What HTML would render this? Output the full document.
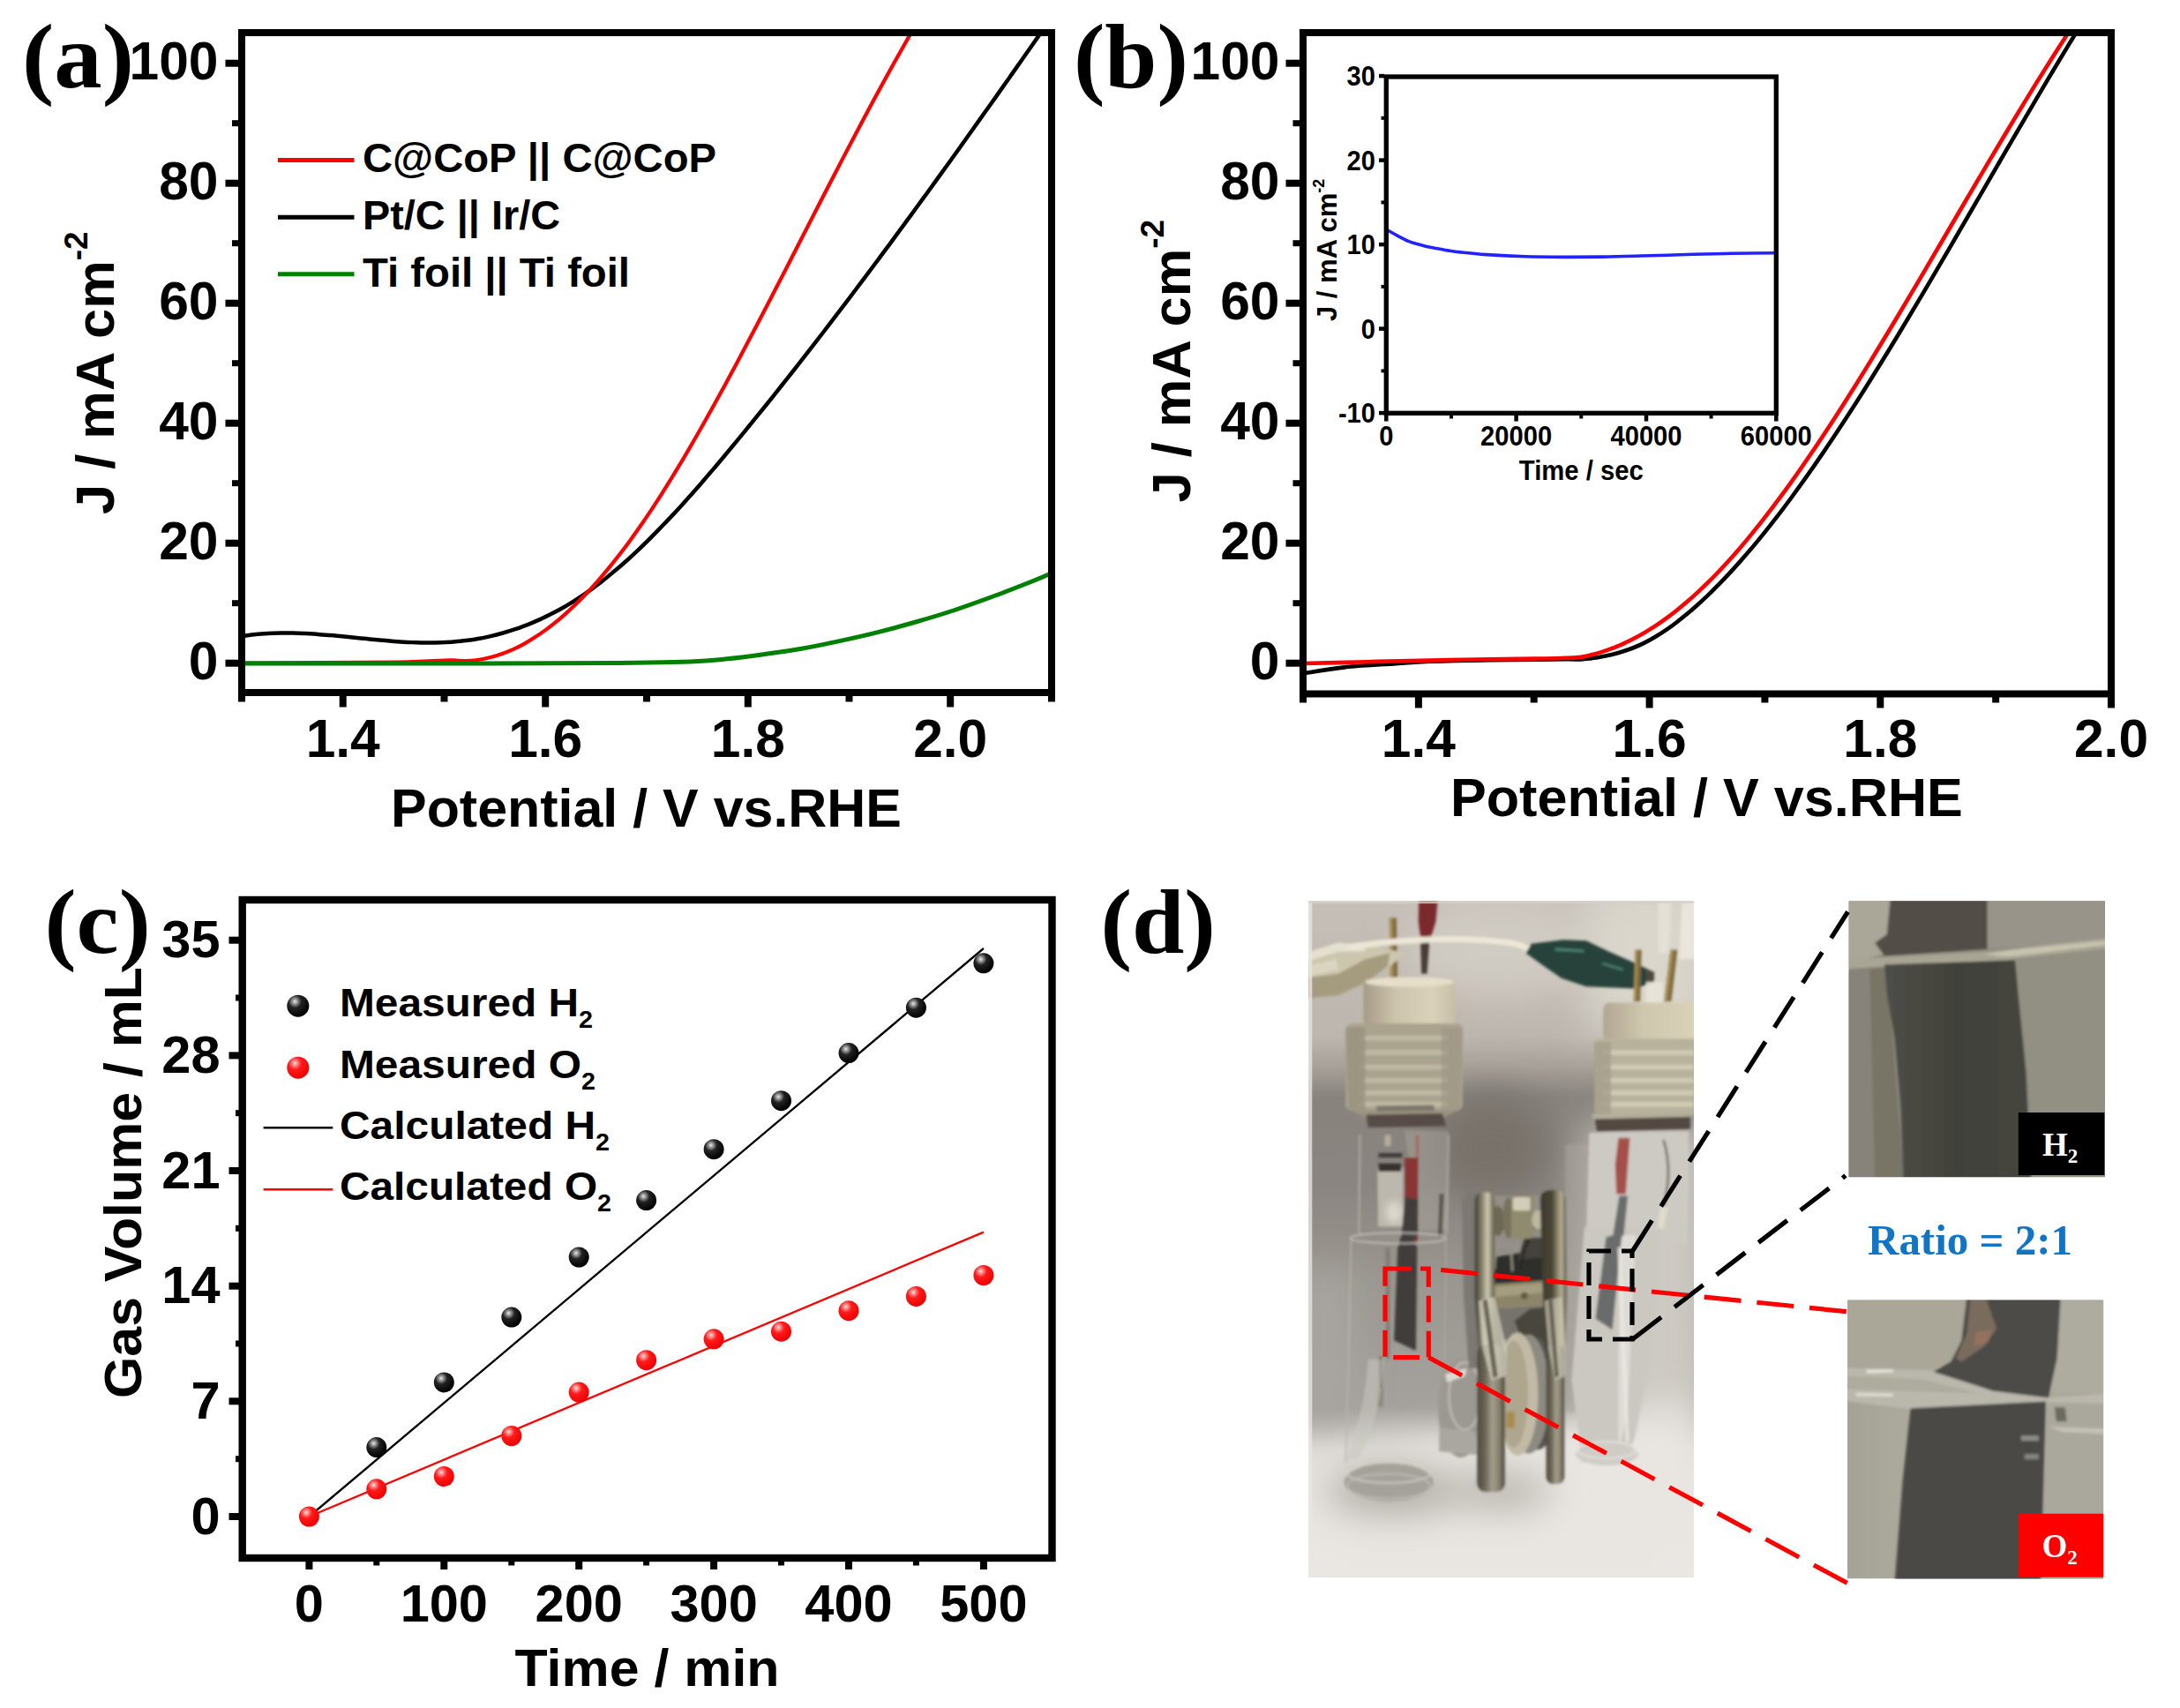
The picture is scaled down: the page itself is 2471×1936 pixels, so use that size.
<!DOCTYPE html>
<html lang="en">
<head>
<meta charset="utf-8">
<title>Figure</title>
<style>
html,body{margin:0;padding:0;background:#fff;}
body{width:2471px;height:1936px;overflow:hidden;}
svg{display:block;}
text{font-kerning:normal;}
</style>
</head>
<body>
<svg xmlns="http://www.w3.org/2000/svg" width="2471" height="1936" viewBox="0 0 2471 1936">
<rect width="2471" height="1936" fill="#fff"/>
<g id="panel-a">
<clipPath id="clipA"><rect x="274.0" y="37.0" width="918.0" height="748.0"/></clipPath>
<g clip-path="url(#clipA)" fill="none" stroke-linejoin="round">
<path d="M276.0,720.9 C278.3,720.6 285.3,719.6 290.0,719.1 C294.7,718.6 299.3,718.3 304.0,718.0 C308.7,717.7 313.3,717.6 318.0,717.5 C322.7,717.4 327.3,717.5 332.0,717.6 C336.7,717.7 341.3,717.9 346.0,718.1 C350.7,718.3 355.3,718.6 360.0,718.9 C364.7,719.2 369.3,719.6 374.0,720.0 C378.7,720.4 383.3,720.8 388.0,721.3 C392.7,721.8 397.3,722.2 402.0,722.7 C406.7,723.2 411.3,723.6 416.0,724.1 C420.7,724.6 425.3,725.1 430.0,725.5 C434.7,725.9 439.3,726.3 444.0,726.7 C448.7,727.1 453.3,727.4 458.0,727.7 C462.7,728.0 467.3,728.1 472.0,728.3 C476.7,728.4 481.3,728.6 486.0,728.6 C490.7,728.6 495.3,728.5 500.0,728.3 C504.7,728.1 509.3,727.9 514.0,727.5 C518.7,727.1 523.3,726.7 528.0,726.1 C532.7,725.5 537.3,724.8 542.0,724.0 C546.7,723.2 551.3,722.2 556.0,721.1 C560.7,720.0 565.3,718.8 570.0,717.5 C574.7,716.2 579.3,714.8 584.0,713.2 C588.7,711.6 593.3,710.0 598.0,708.1 C602.7,706.2 607.3,704.2 612.0,702.1 C616.7,700.0 621.3,697.7 626.0,695.3 C630.7,692.9 635.3,690.4 640.0,687.7 C644.7,685.0 649.3,682.1 654.0,679.1 C658.7,676.1 663.3,672.9 668.0,669.6 C672.7,666.3 677.3,662.8 682.0,659.2 C686.7,655.6 691.3,651.7 696.0,647.8 C700.7,643.9 705.3,639.9 710.0,635.7 C714.7,631.5 719.3,627.2 724.0,622.8 C728.7,618.4 733.3,613.8 738.0,609.1 C742.7,604.4 747.3,599.6 752.0,594.8 C756.7,589.9 761.3,585.0 766.0,580.0 C770.7,575.0 775.3,569.8 780.0,564.6 C784.7,559.4 789.3,554.1 794.0,548.7 C798.7,543.3 803.3,537.9 808.0,532.4 C812.7,526.9 817.3,521.4 822.0,515.8 C826.7,510.2 831.3,504.6 836.0,498.9 C840.7,493.2 845.3,487.5 850.0,481.8 C854.7,476.1 859.3,470.3 864.0,464.5 C868.7,458.7 873.3,453.0 878.0,447.1 C882.7,441.2 887.3,435.3 892.0,429.4 C896.7,423.5 901.3,417.6 906.0,411.6 C910.7,405.6 915.3,399.6 920.0,393.6 C924.7,387.6 929.3,381.6 934.0,375.5 C938.7,369.4 943.3,363.3 948.0,357.2 C952.7,351.1 957.3,345.0 962.0,338.8 C966.7,332.6 971.3,326.4 976.0,320.2 C980.7,314.0 985.3,307.8 990.0,301.5 C994.7,295.2 999.3,289.0 1004.0,282.7 C1008.7,276.4 1013.3,270.1 1018.0,263.7 C1022.7,257.3 1027.3,251.0 1032.0,244.6 C1036.7,238.2 1041.3,231.8 1046.0,225.4 C1050.7,219.0 1055.3,212.6 1060.0,206.1 C1064.7,199.6 1069.3,193.2 1074.0,186.7 C1078.7,180.2 1083.3,173.7 1088.0,167.2 C1092.7,160.7 1097.3,154.1 1102.0,147.5 C1106.7,140.9 1111.3,134.4 1116.0,127.8 C1120.7,121.2 1125.3,114.7 1130.0,108.1 C1134.7,101.5 1139.3,94.8 1144.0,88.2 C1148.7,81.6 1153.3,74.9 1158.0,68.2 C1162.7,61.5 1167.3,54.9 1172.0,48.2 C1176.7,41.5 1183.7,31.5 1186.0,28.2" stroke="#000" stroke-width="4.5"/>
<path d="M276.0,751.5 C305.0,751.3 411.0,751.0 450.0,750.5 C489.0,750.0 498.0,748.5 510.0,748.3 C522.0,748.1 518.0,749.1 522.0,749.2 C526.0,749.3 530.0,749.1 534.0,748.8 C538.0,748.5 542.0,748.0 546.0,747.3 C550.0,746.6 554.0,745.7 558.0,744.6 C562.0,743.5 566.0,742.2 570.0,740.8 C574.0,739.3 578.0,737.7 582.0,735.9 C586.0,734.1 590.0,732.0 594.0,729.8 C598.0,727.6 602.0,725.2 606.0,722.6 C610.0,720.0 614.0,717.3 618.0,714.4 C622.0,711.5 626.0,708.5 630.0,705.2 C634.0,702.0 638.0,698.5 642.0,694.9 C646.0,691.3 650.0,687.5 654.0,683.6 C658.0,679.7 662.0,675.5 666.0,671.3 C670.0,667.0 674.0,662.7 678.0,658.1 C682.0,653.5 686.0,648.8 690.0,643.9 C694.0,639.0 698.0,634.0 702.0,628.8 C706.0,623.6 710.0,618.4 714.0,612.9 C718.0,607.4 722.0,601.8 726.0,596.0 C730.0,590.2 734.0,584.3 738.0,578.3 C742.0,572.3 746.0,566.1 750.0,559.8 C754.0,553.5 758.0,547.1 762.0,540.6 C766.0,534.1 770.0,527.5 774.0,520.8 C778.0,514.1 782.0,507.2 786.0,500.3 C790.0,493.4 794.0,486.4 798.0,479.3 C802.0,472.2 806.0,465.0 810.0,457.8 C814.0,450.6 818.0,443.2 822.0,435.9 C826.0,428.5 830.0,421.2 834.0,413.7 C838.0,406.2 842.0,398.7 846.0,391.1 C850.0,383.5 854.0,375.9 858.0,368.2 C862.0,360.5 866.0,352.9 870.0,345.2 C874.0,337.5 878.0,329.8 882.0,322.0 C886.0,314.2 890.0,306.5 894.0,298.7 C898.0,290.9 902.0,283.1 906.0,275.3 C910.0,267.5 914.0,259.7 918.0,251.9 C922.0,244.1 926.0,236.3 930.0,228.5 C934.0,220.7 938.0,213.0 942.0,205.3 C946.0,197.6 950.0,189.8 954.0,182.1 C958.0,174.4 962.0,166.8 966.0,159.2 C970.0,151.6 974.0,144.0 978.0,136.5 C982.0,129.0 986.0,121.4 990.0,114.0 C994.0,106.6 998.0,99.3 1002.0,92.0 C1006.0,84.7 1010.0,77.5 1014.0,70.3 C1018.0,63.1 1022.0,56.0 1026.0,49.0 C1030.0,42.0 1036.0,31.7 1038.0,28.2" stroke="#ff0000" stroke-width="4.2"/>
<path d="M276.0,752.0 C313.3,752.0 429.3,752.1 500.0,752.0 C570.7,751.9 653.0,751.8 700.0,751.5 C747.0,751.2 761.2,750.8 782.0,750.0 C802.8,749.2 810.4,748.2 824.6,746.8 C838.8,745.4 852.8,743.5 867.0,741.5 C881.2,739.5 895.7,737.5 910.0,735.0 C924.3,732.5 938.4,729.5 952.6,726.4 C966.8,723.3 980.8,720.2 995.0,716.6 C1009.2,713.0 1023.7,709.1 1038.0,705.0 C1052.3,700.9 1066.4,696.7 1080.6,692.0 C1094.8,687.3 1108.8,682.2 1123.0,677.0 C1137.2,671.8 1154.8,664.9 1166.0,660.5 C1177.2,656.1 1186.0,652.2 1190.0,650.5" stroke="#008000" stroke-width="5"/>
</g>
<rect x="274.0" y="37.0" width="918.0" height="748.0" fill="none" stroke="#000" stroke-width="8"/>
<line x1="255.5" y1="751.7" x2="271.0" y2="751.7" stroke="#000" stroke-width="8" />
<text x="247.5" y="770.4" font-family='"Liberation Sans", Arial, Helvetica, sans-serif' font-size="60.5" font-weight="bold" text-anchor="end" fill="#000" >0</text>
<line x1="255.5" y1="615.7" x2="271.0" y2="615.7" stroke="#000" stroke-width="8" />
<text x="247.5" y="634.4" font-family='"Liberation Sans", Arial, Helvetica, sans-serif' font-size="60.5" font-weight="bold" text-anchor="end" fill="#000" >20</text>
<line x1="255.5" y1="479.7" x2="271.0" y2="479.7" stroke="#000" stroke-width="8" />
<text x="247.5" y="498.4" font-family='"Liberation Sans", Arial, Helvetica, sans-serif' font-size="60.5" font-weight="bold" text-anchor="end" fill="#000" >40</text>
<line x1="255.5" y1="343.7" x2="271.0" y2="343.7" stroke="#000" stroke-width="8" />
<text x="247.5" y="362.4" font-family='"Liberation Sans", Arial, Helvetica, sans-serif' font-size="60.5" font-weight="bold" text-anchor="end" fill="#000" >60</text>
<line x1="255.5" y1="207.7" x2="271.0" y2="207.7" stroke="#000" stroke-width="8" />
<text x="247.5" y="226.4" font-family='"Liberation Sans", Arial, Helvetica, sans-serif' font-size="60.5" font-weight="bold" text-anchor="end" fill="#000" >80</text>
<line x1="255.5" y1="71.7" x2="271.0" y2="71.7" stroke="#000" stroke-width="8" />
<text x="247.5" y="90.4" font-family='"Liberation Sans", Arial, Helvetica, sans-serif' font-size="60.5" font-weight="bold" text-anchor="end" fill="#000" >100</text>
<line x1="263.0" y1="683.7" x2="271.0" y2="683.7" stroke="#000" stroke-width="7" />
<line x1="263.0" y1="547.7" x2="271.0" y2="547.7" stroke="#000" stroke-width="7" />
<line x1="263.0" y1="411.7" x2="271.0" y2="411.7" stroke="#000" stroke-width="7" />
<line x1="263.0" y1="275.7" x2="271.0" y2="275.7" stroke="#000" stroke-width="7" />
<line x1="263.0" y1="139.7" x2="271.0" y2="139.7" stroke="#000" stroke-width="7" />
<line x1="388.7" y1="788.0" x2="388.7" y2="801.5" stroke="#000" stroke-width="8" />
<text x="388.7" y="857.5" font-family='"Liberation Sans", Arial, Helvetica, sans-serif' font-size="60.5" font-weight="bold" text-anchor="middle" fill="#000" >1.4</text>
<line x1="618.2" y1="788.0" x2="618.2" y2="801.5" stroke="#000" stroke-width="8" />
<text x="618.2" y="857.5" font-family='"Liberation Sans", Arial, Helvetica, sans-serif' font-size="60.5" font-weight="bold" text-anchor="middle" fill="#000" >1.6</text>
<line x1="847.8" y1="788.0" x2="847.8" y2="801.5" stroke="#000" stroke-width="8" />
<text x="847.8" y="857.5" font-family='"Liberation Sans", Arial, Helvetica, sans-serif' font-size="60.5" font-weight="bold" text-anchor="middle" fill="#000" >1.8</text>
<line x1="1077.2" y1="788.0" x2="1077.2" y2="801.5" stroke="#000" stroke-width="8" />
<text x="1077.2" y="857.5" font-family='"Liberation Sans", Arial, Helvetica, sans-serif' font-size="60.5" font-weight="bold" text-anchor="middle" fill="#000" >2.0</text>
<line x1="274.0" y1="788.0" x2="274.0" y2="795.5" stroke="#000" stroke-width="8" />
<line x1="503.5" y1="788.0" x2="503.5" y2="795.5" stroke="#000" stroke-width="8" />
<line x1="733.0" y1="788.0" x2="733.0" y2="795.5" stroke="#000" stroke-width="8" />
<line x1="962.5" y1="788.0" x2="962.5" y2="795.5" stroke="#000" stroke-width="8" />
<line x1="1192.0" y1="788.0" x2="1192.0" y2="795.5" stroke="#000" stroke-width="8" />
<text x="732.5" y="937" font-family='"Liberation Sans", Arial, Helvetica, sans-serif' font-size="60.5" font-weight="bold" text-anchor="middle" fill="#000" textLength="579" lengthAdjust="spacingAndGlyphs">Potential / V vs.RHE</text>
<text transform="translate(128.8,583) rotate(-90)" font-family='"Liberation Sans", Arial, Helvetica, sans-serif' font-size="61.4" font-weight="bold" fill="#000">J / mA cm<tspan font-size="37" dy="-30">-2</tspan></text>
<line x1="315.0" y1="181.5" x2="401.5" y2="181.5" stroke="#ff0000" stroke-width="5" />
<line x1="315.0" y1="246.3" x2="401.5" y2="246.3" stroke="#000" stroke-width="5" />
<line x1="315.0" y1="310.7" x2="401.5" y2="310.7" stroke="#008000" stroke-width="5" />
<text x="411" y="194.5" font-family='"Liberation Sans", Arial, Helvetica, sans-serif' font-size="46.5" font-weight="bold" text-anchor="start" fill="#000" textLength="401" lengthAdjust="spacingAndGlyphs">C@CoP || C@CoP</text>
<text x="411" y="259.5" font-family='"Liberation Sans", Arial, Helvetica, sans-serif' font-size="46.5" font-weight="bold" text-anchor="start" fill="#000" textLength="224" lengthAdjust="spacingAndGlyphs">Pt/C || Ir/C</text>
<text x="411" y="324.5" font-family='"Liberation Sans", Arial, Helvetica, sans-serif' font-size="46.5" font-weight="bold" text-anchor="start" fill="#000" textLength="303" lengthAdjust="spacingAndGlyphs">Ti foil || Ti foil</text>
<text x="25.1" y="98.5" font-family='"Liberation Serif", "Times New Roman", Times, serif' font-size="103.5" font-weight="bold" text-anchor="start" fill="#000" textLength="126.8" lengthAdjust="spacingAndGlyphs">(a)</text>
</g>
<g id="panel-b">
<clipPath id="clipB"><rect x="1477.0" y="37.0" width="916.0" height="749.5"/></clipPath>
<g clip-path="url(#clipB)" fill="none" stroke-linejoin="round">
<path d="M1476.0,764.0 C1476.8,763.8 1471.8,764.1 1480.6,762.7 C1489.4,761.3 1512.3,757.5 1528.8,755.8 C1545.2,754.1 1564.0,753.4 1579.3,752.4 C1594.6,751.4 1602.2,750.5 1620.6,749.8 C1638.9,749.1 1669.5,748.5 1689.4,748.2 C1709.3,747.9 1725.7,747.9 1740.0,747.8 C1754.3,747.6 1766.3,747.4 1775.0,747.3 C1783.7,747.2 1787.2,747.6 1792.0,747.4 C1796.8,747.2 1800.0,746.6 1804.0,746.1 C1808.0,745.6 1812.0,744.9 1816.0,744.2 C1820.0,743.5 1824.0,742.7 1828.0,741.7 C1832.0,740.7 1836.0,739.6 1840.0,738.3 C1844.0,737.0 1848.0,735.6 1852.0,734.0 C1856.0,732.4 1860.0,730.6 1864.0,728.6 C1868.0,726.6 1872.0,724.4 1876.0,722.0 C1880.0,719.6 1884.0,717.1 1888.0,714.4 C1892.0,711.7 1896.0,708.8 1900.0,705.7 C1904.0,702.7 1908.0,699.4 1912.0,696.1 C1916.0,692.8 1920.0,689.3 1924.0,685.7 C1928.0,682.1 1932.0,678.4 1936.0,674.6 C1940.0,670.8 1944.0,666.8 1948.0,662.7 C1952.0,658.6 1956.0,654.4 1960.0,650.1 C1964.0,645.8 1968.0,641.4 1972.0,636.9 C1976.0,632.4 1980.0,627.8 1984.0,623.1 C1988.0,618.4 1992.0,613.5 1996.0,608.6 C2000.0,603.7 2004.0,598.7 2008.0,593.6 C2012.0,588.5 2016.0,583.4 2020.0,578.1 C2024.0,572.8 2028.0,567.5 2032.0,562.0 C2036.0,556.5 2040.0,551.0 2044.0,545.4 C2048.0,539.8 2052.0,534.1 2056.0,528.4 C2060.0,522.6 2064.0,516.8 2068.0,510.9 C2072.0,505.0 2076.0,499.0 2080.0,493.0 C2084.0,487.0 2088.0,480.9 2092.0,474.8 C2096.0,468.7 2100.0,462.5 2104.0,456.2 C2108.0,449.9 2112.0,443.6 2116.0,437.2 C2120.0,430.8 2124.0,424.4 2128.0,418.0 C2132.0,411.6 2136.0,405.1 2140.0,398.5 C2144.0,391.9 2148.0,385.3 2152.0,378.7 C2156.0,372.1 2160.0,365.5 2164.0,358.8 C2168.0,352.1 2172.0,345.4 2176.0,338.6 C2180.0,331.9 2184.0,325.1 2188.0,318.3 C2192.0,311.5 2196.0,304.7 2200.0,297.9 C2204.0,291.1 2208.0,284.2 2212.0,277.3 C2216.0,270.4 2220.0,263.6 2224.0,256.7 C2228.0,249.8 2232.0,242.9 2236.0,236.0 C2240.0,229.1 2244.0,222.2 2248.0,215.3 C2252.0,208.4 2256.0,201.5 2260.0,194.6 C2264.0,187.7 2268.0,180.8 2272.0,173.9 C2276.0,167.0 2280.0,160.2 2284.0,153.3 C2288.0,146.5 2292.0,139.6 2296.0,132.8 C2300.0,126.0 2304.0,119.2 2308.0,112.4 C2312.0,105.6 2316.0,98.8 2320.0,92.1 C2324.0,85.4 2328.0,78.7 2332.0,72.0 C2336.0,65.3 2340.0,58.7 2344.0,52.1 C2348.0,45.5 2354.0,35.8 2356.0,32.5" stroke="#000" stroke-width="4.6"/>
<path d="M1476.0,752.0 C1486.7,751.8 1519.7,751.0 1540.0,750.5 C1560.3,750.0 1572.7,749.5 1597.6,749.0 C1622.5,748.5 1665.7,747.7 1689.4,747.3 C1713.1,746.9 1726.6,746.8 1740.0,746.6 C1753.4,746.4 1760.9,746.3 1769.6,746.0 C1778.3,745.7 1786.3,745.5 1792.0,744.9 C1797.7,744.3 1800.0,743.3 1804.0,742.3 C1808.0,741.3 1812.0,740.2 1816.0,738.9 C1820.0,737.6 1824.0,736.2 1828.0,734.7 C1832.0,733.2 1836.0,731.4 1840.0,729.6 C1844.0,727.8 1848.0,725.9 1852.0,723.8 C1856.0,721.7 1860.0,719.5 1864.0,717.1 C1868.0,714.7 1872.0,712.2 1876.0,709.6 C1880.0,707.0 1884.0,704.2 1888.0,701.3 C1892.0,698.4 1896.0,695.4 1900.0,692.2 C1904.0,689.0 1908.0,685.7 1912.0,682.3 C1916.0,678.9 1920.0,675.3 1924.0,671.6 C1928.0,667.9 1932.0,664.1 1936.0,660.2 C1940.0,656.3 1944.0,652.2 1948.0,648.0 C1952.0,643.8 1956.0,639.4 1960.0,635.0 C1964.0,630.6 1968.0,626.0 1972.0,621.4 C1976.0,616.8 1980.0,612.0 1984.0,607.1 C1988.0,602.2 1992.0,597.3 1996.0,592.2 C2000.0,587.1 2004.0,582.0 2008.0,576.7 C2012.0,571.5 2016.0,566.1 2020.0,560.7 C2024.0,555.3 2028.0,549.7 2032.0,544.1 C2036.0,538.5 2040.0,532.8 2044.0,527.0 C2048.0,521.2 2052.0,515.4 2056.0,509.5 C2060.0,503.6 2064.0,497.6 2068.0,491.5 C2072.0,485.4 2076.0,479.4 2080.0,473.2 C2084.0,467.0 2088.0,460.8 2092.0,454.5 C2096.0,448.2 2100.0,441.9 2104.0,435.5 C2108.0,429.1 2112.0,422.6 2116.0,416.1 C2120.0,409.6 2124.0,403.1 2128.0,396.5 C2132.0,389.9 2136.0,383.3 2140.0,376.7 C2144.0,370.1 2148.0,363.4 2152.0,356.7 C2156.0,350.0 2160.0,343.3 2164.0,336.6 C2168.0,329.9 2172.0,323.1 2176.0,316.3 C2180.0,309.5 2184.0,302.7 2188.0,295.9 C2192.0,289.1 2196.0,282.3 2200.0,275.5 C2204.0,268.7 2208.0,261.8 2212.0,255.0 C2216.0,248.2 2220.0,241.3 2224.0,234.5 C2228.0,227.7 2232.0,220.9 2236.0,214.1 C2240.0,207.3 2244.0,200.6 2248.0,193.8 C2252.0,187.1 2256.0,180.3 2260.0,173.6 C2264.0,166.9 2268.0,160.2 2272.0,153.5 C2276.0,146.8 2280.0,140.2 2284.0,133.6 C2288.0,127.0 2292.0,120.4 2296.0,113.9 C2300.0,107.4 2304.0,100.9 2308.0,94.4 C2312.0,88.0 2316.0,81.6 2320.0,75.2 C2324.0,68.8 2328.0,62.5 2332.0,56.3 C2336.0,50.1 2342.0,40.9 2344.0,37.8" stroke="#ff0000" stroke-width="4.6"/>
</g>
<rect x="1477.0" y="37.0" width="916.0" height="749.5" fill="none" stroke="#000" stroke-width="8"/>
<line x1="1457.5" y1="751.7" x2="1474.0" y2="751.7" stroke="#000" stroke-width="8" />
<text x="1450.5" y="770.4" font-family='"Liberation Sans", Arial, Helvetica, sans-serif' font-size="60.5" font-weight="bold" text-anchor="end" fill="#000" >0</text>
<line x1="1457.5" y1="615.7" x2="1474.0" y2="615.7" stroke="#000" stroke-width="8" />
<text x="1450.5" y="634.4" font-family='"Liberation Sans", Arial, Helvetica, sans-serif' font-size="60.5" font-weight="bold" text-anchor="end" fill="#000" >20</text>
<line x1="1457.5" y1="479.7" x2="1474.0" y2="479.7" stroke="#000" stroke-width="8" />
<text x="1450.5" y="498.4" font-family='"Liberation Sans", Arial, Helvetica, sans-serif' font-size="60.5" font-weight="bold" text-anchor="end" fill="#000" >40</text>
<line x1="1457.5" y1="343.7" x2="1474.0" y2="343.7" stroke="#000" stroke-width="8" />
<text x="1450.5" y="362.4" font-family='"Liberation Sans", Arial, Helvetica, sans-serif' font-size="60.5" font-weight="bold" text-anchor="end" fill="#000" >60</text>
<line x1="1457.5" y1="207.7" x2="1474.0" y2="207.7" stroke="#000" stroke-width="8" />
<text x="1450.5" y="226.4" font-family='"Liberation Sans", Arial, Helvetica, sans-serif' font-size="60.5" font-weight="bold" text-anchor="end" fill="#000" >80</text>
<line x1="1457.5" y1="71.7" x2="1474.0" y2="71.7" stroke="#000" stroke-width="8" />
<text x="1450.5" y="90.4" font-family='"Liberation Sans", Arial, Helvetica, sans-serif' font-size="60.5" font-weight="bold" text-anchor="end" fill="#000" >100</text>
<line x1="1465.5" y1="683.7" x2="1474.0" y2="683.7" stroke="#000" stroke-width="7" />
<line x1="1465.5" y1="547.7" x2="1474.0" y2="547.7" stroke="#000" stroke-width="7" />
<line x1="1465.5" y1="411.7" x2="1474.0" y2="411.7" stroke="#000" stroke-width="7" />
<line x1="1465.5" y1="275.7" x2="1474.0" y2="275.7" stroke="#000" stroke-width="7" />
<line x1="1465.5" y1="139.7" x2="1474.0" y2="139.7" stroke="#000" stroke-width="7" />
<line x1="1607.9" y1="789.5" x2="1607.9" y2="802.5" stroke="#000" stroke-width="8" />
<text x="1607.9" y="857.5" font-family='"Liberation Sans", Arial, Helvetica, sans-serif' font-size="60.5" font-weight="bold" text-anchor="middle" fill="#000" >1.4</text>
<line x1="1869.6" y1="789.5" x2="1869.6" y2="802.5" stroke="#000" stroke-width="8" />
<text x="1869.6" y="857.5" font-family='"Liberation Sans", Arial, Helvetica, sans-serif' font-size="60.5" font-weight="bold" text-anchor="middle" fill="#000" >1.6</text>
<line x1="2131.3" y1="789.5" x2="2131.3" y2="802.5" stroke="#000" stroke-width="8" />
<text x="2131.3" y="857.5" font-family='"Liberation Sans", Arial, Helvetica, sans-serif' font-size="60.5" font-weight="bold" text-anchor="middle" fill="#000" >1.8</text>
<line x1="2393.0" y1="789.5" x2="2393.0" y2="802.5" stroke="#000" stroke-width="8" />
<text x="2393.0" y="857.5" font-family='"Liberation Sans", Arial, Helvetica, sans-serif' font-size="60.5" font-weight="bold" text-anchor="middle" fill="#000" >2.0</text>
<line x1="1477.0" y1="789.5" x2="1477.0" y2="796.5" stroke="#000" stroke-width="8" />
<line x1="1738.7" y1="789.5" x2="1738.7" y2="796.5" stroke="#000" stroke-width="8" />
<line x1="2000.4" y1="789.5" x2="2000.4" y2="796.5" stroke="#000" stroke-width="8" />
<line x1="2262.2" y1="789.5" x2="2262.2" y2="796.5" stroke="#000" stroke-width="8" />
<text x="1934.4" y="925" font-family='"Liberation Sans", Arial, Helvetica, sans-serif' font-size="60.5" font-weight="bold" text-anchor="middle" fill="#000" textLength="581" lengthAdjust="spacingAndGlyphs">Potential / V vs.RHE</text>
<text transform="translate(1348.6,569.5) rotate(-90)" font-family='"Liberation Sans", Arial, Helvetica, sans-serif' font-size="61.4" font-weight="bold" fill="#000">J / mA cm<tspan font-size="37" dy="-30">-2</tspan></text>
<path d="M1572.2,260.5 C1573.7,261.3 1576.8,263.3 1581.0,265.5 C1585.1,267.7 1592.0,271.6 1597.1,273.7 C1602.2,275.8 1606.8,276.8 1611.7,278.0 C1616.6,279.3 1621.5,280.3 1626.3,281.3 C1631.2,282.2 1636.1,283.1 1641.0,283.9 C1645.9,284.7 1648.3,285.2 1655.6,285.9 C1662.9,286.7 1672.7,287.8 1684.9,288.6 C1697.1,289.4 1714.1,290.3 1728.8,290.8 C1743.4,291.2 1758.0,291.3 1772.7,291.4 C1787.3,291.4 1801.9,291.3 1816.6,291.1 C1831.2,290.9 1843.4,290.5 1860.5,290.0 C1877.6,289.6 1901.9,288.8 1919.0,288.3 C1936.1,287.8 1947.2,287.5 1962.9,287.3 C1978.6,287.0 2004.9,286.9 2013.3,286.8" fill="none" stroke="#2222ff" stroke-width="3.6"/>
<rect x="1571.3" y="87.0" width="442.0" height="381.3" fill="none" stroke="#000" stroke-width="5.3"/>
<line x1="1563.0" y1="468.1" x2="1569.0" y2="468.1" stroke="#000" stroke-width="4.5" />
<text x="1559" y="479.3" font-family='"Liberation Sans", Arial, Helvetica, sans-serif' font-size="31" font-weight="bold" text-anchor="end" fill="#000" textLength="42.1" lengthAdjust="spacingAndGlyphs">-10</text>
<line x1="1563.0" y1="372.6" x2="1569.0" y2="372.6" stroke="#000" stroke-width="4.5" />
<text x="1559" y="383.8" font-family='"Liberation Sans", Arial, Helvetica, sans-serif' font-size="31" font-weight="bold" text-anchor="end" fill="#000" textLength="16.2" lengthAdjust="spacingAndGlyphs">0</text>
<line x1="1563.0" y1="277.1" x2="1569.0" y2="277.1" stroke="#000" stroke-width="4.5" />
<text x="1559" y="288.3" font-family='"Liberation Sans", Arial, Helvetica, sans-serif' font-size="31" font-weight="bold" text-anchor="end" fill="#000" textLength="32.4" lengthAdjust="spacingAndGlyphs">10</text>
<line x1="1563.0" y1="181.6" x2="1569.0" y2="181.6" stroke="#000" stroke-width="4.5" />
<text x="1559" y="192.8" font-family='"Liberation Sans", Arial, Helvetica, sans-serif' font-size="31" font-weight="bold" text-anchor="end" fill="#000" textLength="32.4" lengthAdjust="spacingAndGlyphs">20</text>
<line x1="1563.0" y1="86.1" x2="1569.0" y2="86.1" stroke="#000" stroke-width="4.5" />
<text x="1559" y="97.3" font-family='"Liberation Sans", Arial, Helvetica, sans-serif' font-size="31" font-weight="bold" text-anchor="end" fill="#000" textLength="32.4" lengthAdjust="spacingAndGlyphs">30</text>
<line x1="1565.5" y1="420.4" x2="1569.0" y2="420.4" stroke="#000" stroke-width="4" />
<line x1="1565.5" y1="324.9" x2="1569.0" y2="324.9" stroke="#000" stroke-width="4" />
<line x1="1565.5" y1="229.4" x2="1569.0" y2="229.4" stroke="#000" stroke-width="4" />
<line x1="1565.5" y1="133.8" x2="1569.0" y2="133.8" stroke="#000" stroke-width="4" />
<line x1="1571.3" y1="470.5" x2="1571.3" y2="477.5" stroke="#000" stroke-width="4.5" />
<text x="1571.3" y="505.3" font-family='"Liberation Sans", Arial, Helvetica, sans-serif' font-size="31" font-weight="bold" text-anchor="middle" fill="#000" textLength="16.2" lengthAdjust="spacingAndGlyphs">0</text>
<line x1="1718.6" y1="470.5" x2="1718.6" y2="477.5" stroke="#000" stroke-width="4.5" />
<text x="1718.6" y="505.3" font-family='"Liberation Sans", Arial, Helvetica, sans-serif' font-size="31" font-weight="bold" text-anchor="middle" fill="#000" textLength="81.0" lengthAdjust="spacingAndGlyphs">20000</text>
<line x1="1866.0" y1="470.5" x2="1866.0" y2="477.5" stroke="#000" stroke-width="4.5" />
<text x="1866.0" y="505.3" font-family='"Liberation Sans", Arial, Helvetica, sans-serif' font-size="31" font-weight="bold" text-anchor="middle" fill="#000" textLength="81.0" lengthAdjust="spacingAndGlyphs">40000</text>
<line x1="2013.3" y1="470.5" x2="2013.3" y2="477.5" stroke="#000" stroke-width="4.5" />
<text x="2013.3" y="505.3" font-family='"Liberation Sans", Arial, Helvetica, sans-serif' font-size="31" font-weight="bold" text-anchor="middle" fill="#000" textLength="81.0" lengthAdjust="spacingAndGlyphs">60000</text>
<line x1="1645.0" y1="470.5" x2="1645.0" y2="474.5" stroke="#000" stroke-width="4" />
<line x1="1792.3" y1="470.5" x2="1792.3" y2="474.5" stroke="#000" stroke-width="4" />
<line x1="1939.6" y1="470.5" x2="1939.6" y2="474.5" stroke="#000" stroke-width="4" />
<text x="1792.3" y="544.2" font-family='"Liberation Sans", Arial, Helvetica, sans-serif' font-size="31" font-weight="bold" text-anchor="middle" fill="#000" textLength="141" lengthAdjust="spacingAndGlyphs">Time / sec</text>
<text transform="translate(1514.5,364) rotate(-90)" font-family='"Liberation Sans", Arial, Helvetica, sans-serif' font-size="31" font-weight="bold" fill="#000">J / mA cm<tspan font-size="18" dy="-14">-2</tspan></text>
<text x="1216.9" y="99.4" font-family='"Liberation Serif", "Times New Roman", Times, serif' font-size="103.5" font-weight="bold" text-anchor="start" fill="#000" textLength="130" lengthAdjust="spacingAndGlyphs">(b)</text>
</g>
<g id="panel-c">
<defs>
<radialGradient id="ballK" cx="0.36" cy="0.30" r="0.7" fx="0.36" fy="0.30">
<stop offset="0" stop-color="#e8e8e8"/><stop offset="0.16" stop-color="#9a9a9a"/><stop offset="0.42" stop-color="#222"/><stop offset="1" stop-color="#000"/>
</radialGradient>
<radialGradient id="ballR" cx="0.36" cy="0.30" r="0.7" fx="0.36" fy="0.30">
<stop offset="0" stop-color="#ffe6e6"/><stop offset="0.16" stop-color="#ff8a8a"/><stop offset="0.42" stop-color="#ff1a1a"/><stop offset="1" stop-color="#f00000"/>
</radialGradient>
</defs>
<line x1="350.4" y1="1719.0" x2="1114.9" y2="1075.0" stroke="#000" stroke-width="2.3" />
<line x1="350.4" y1="1719.0" x2="1114.9" y2="1396.6" stroke="#ff0000" stroke-width="2.3" />
<circle cx="426.8" cy="1640.6" r="11.5" fill="url(#ballK)"/>
<circle cx="503.3" cy="1566.9" r="11.5" fill="url(#ballK)"/>
<circle cx="579.8" cy="1493.1" r="11.5" fill="url(#ballK)"/>
<circle cx="656.2" cy="1425.0" r="11.5" fill="url(#ballK)"/>
<circle cx="732.6" cy="1360.6" r="11.5" fill="url(#ballK)"/>
<circle cx="809.1" cy="1302.7" r="11.5" fill="url(#ballK)"/>
<circle cx="885.5" cy="1247.7" r="11.5" fill="url(#ballK)"/>
<circle cx="962.0" cy="1193.6" r="11.5" fill="url(#ballK)"/>
<circle cx="1038.4" cy="1142.2" r="11.5" fill="url(#ballK)"/>
<circle cx="1114.9" cy="1091.8" r="11.5" fill="url(#ballK)"/>
<circle cx="350.4" cy="1719.0" r="11.5" fill="url(#ballR)"/>
<circle cx="426.8" cy="1687.8" r="11.5" fill="url(#ballR)"/>
<circle cx="503.3" cy="1673.5" r="11.5" fill="url(#ballR)"/>
<circle cx="579.8" cy="1627.5" r="11.5" fill="url(#ballR)"/>
<circle cx="656.2" cy="1578.1" r="11.5" fill="url(#ballR)"/>
<circle cx="732.6" cy="1541.7" r="11.5" fill="url(#ballR)"/>
<circle cx="809.1" cy="1517.8" r="11.5" fill="url(#ballR)"/>
<circle cx="885.5" cy="1509.2" r="11.5" fill="url(#ballR)"/>
<circle cx="962.0" cy="1485.7" r="11.5" fill="url(#ballR)"/>
<circle cx="1038.4" cy="1469.4" r="11.5" fill="url(#ballR)"/>
<circle cx="1114.9" cy="1445.5" r="11.5" fill="url(#ballR)"/>
<rect x="274.7" y="1020.0" width="917.8" height="746.0" fill="none" stroke="#000" stroke-width="8.4"/>
<line x1="259.5" y1="1719.0" x2="271.0" y2="1719.0" stroke="#000" stroke-width="8" />
<text x="249.5" y="1738.5" font-family='"Liberation Sans", Arial, Helvetica, sans-serif' font-size="59.5" font-weight="bold" text-anchor="end" fill="#000" >0</text>
<line x1="259.5" y1="1588.3" x2="271.0" y2="1588.3" stroke="#000" stroke-width="8" />
<text x="249.5" y="1607.8" font-family='"Liberation Sans", Arial, Helvetica, sans-serif' font-size="59.5" font-weight="bold" text-anchor="end" fill="#000" >7</text>
<line x1="259.5" y1="1457.7" x2="271.0" y2="1457.7" stroke="#000" stroke-width="8" />
<text x="249.5" y="1477.2" font-family='"Liberation Sans", Arial, Helvetica, sans-serif' font-size="59.5" font-weight="bold" text-anchor="end" fill="#000" >14</text>
<line x1="259.5" y1="1327.0" x2="271.0" y2="1327.0" stroke="#000" stroke-width="8" />
<text x="249.5" y="1346.5" font-family='"Liberation Sans", Arial, Helvetica, sans-serif' font-size="59.5" font-weight="bold" text-anchor="end" fill="#000" >21</text>
<line x1="259.5" y1="1196.4" x2="271.0" y2="1196.4" stroke="#000" stroke-width="8" />
<text x="249.5" y="1215.9" font-family='"Liberation Sans", Arial, Helvetica, sans-serif' font-size="59.5" font-weight="bold" text-anchor="end" fill="#000" >28</text>
<line x1="259.5" y1="1065.7" x2="271.0" y2="1065.7" stroke="#000" stroke-width="8" />
<text x="249.5" y="1085.2" font-family='"Liberation Sans", Arial, Helvetica, sans-serif' font-size="59.5" font-weight="bold" text-anchor="end" fill="#000" >35</text>
<line x1="267.0" y1="1653.7" x2="271.0" y2="1653.7" stroke="#000" stroke-width="7" />
<line x1="267.0" y1="1523.0" x2="271.0" y2="1523.0" stroke="#000" stroke-width="7" />
<line x1="267.0" y1="1392.3" x2="271.0" y2="1392.3" stroke="#000" stroke-width="7" />
<line x1="267.0" y1="1261.7" x2="271.0" y2="1261.7" stroke="#000" stroke-width="7" />
<line x1="267.0" y1="1131.0" x2="271.0" y2="1131.0" stroke="#000" stroke-width="7" />
<line x1="350.4" y1="1770.0" x2="350.4" y2="1779.0" stroke="#000" stroke-width="8" />
<text x="350.4" y="1837.5" font-family='"Liberation Sans", Arial, Helvetica, sans-serif' font-size="59.5" font-weight="bold" text-anchor="middle" fill="#000" >0</text>
<line x1="503.3" y1="1770.0" x2="503.3" y2="1779.0" stroke="#000" stroke-width="8" />
<text x="503.3" y="1837.5" font-family='"Liberation Sans", Arial, Helvetica, sans-serif' font-size="59.5" font-weight="bold" text-anchor="middle" fill="#000" >100</text>
<line x1="656.2" y1="1770.0" x2="656.2" y2="1779.0" stroke="#000" stroke-width="8" />
<text x="656.2" y="1837.5" font-family='"Liberation Sans", Arial, Helvetica, sans-serif' font-size="59.5" font-weight="bold" text-anchor="middle" fill="#000" >200</text>
<line x1="809.1" y1="1770.0" x2="809.1" y2="1779.0" stroke="#000" stroke-width="8" />
<text x="809.1" y="1837.5" font-family='"Liberation Sans", Arial, Helvetica, sans-serif' font-size="59.5" font-weight="bold" text-anchor="middle" fill="#000" >300</text>
<line x1="962.0" y1="1770.0" x2="962.0" y2="1779.0" stroke="#000" stroke-width="8" />
<text x="962.0" y="1837.5" font-family='"Liberation Sans", Arial, Helvetica, sans-serif' font-size="59.5" font-weight="bold" text-anchor="middle" fill="#000" >400</text>
<line x1="1114.9" y1="1770.0" x2="1114.9" y2="1779.0" stroke="#000" stroke-width="8" />
<text x="1114.9" y="1837.5" font-family='"Liberation Sans", Arial, Helvetica, sans-serif' font-size="59.5" font-weight="bold" text-anchor="middle" fill="#000" >500</text>
<line x1="426.8" y1="1770.0" x2="426.8" y2="1774.5" stroke="#000" stroke-width="7" />
<line x1="579.8" y1="1770.0" x2="579.8" y2="1774.5" stroke="#000" stroke-width="7" />
<line x1="732.6" y1="1770.0" x2="732.6" y2="1774.5" stroke="#000" stroke-width="7" />
<line x1="885.5" y1="1770.0" x2="885.5" y2="1774.5" stroke="#000" stroke-width="7" />
<line x1="1038.4" y1="1770.0" x2="1038.4" y2="1774.5" stroke="#000" stroke-width="7" />
<text x="733.5" y="1910.5" font-family='"Liberation Sans", Arial, Helvetica, sans-serif' font-size="60" font-weight="bold" text-anchor="middle" fill="#000" textLength="300" lengthAdjust="spacingAndGlyphs">Time / min</text>
<text transform="translate(160.2,1585) rotate(-90)" font-family='"Liberation Sans", Arial, Helvetica, sans-serif' font-size="59.5" font-weight="bold" fill="#000" textLength="489" lengthAdjust="spacingAndGlyphs">Gas Volume / mL</text>
<circle cx="337.8" cy="1140.2" r="12.5" fill="url(#ballK)"/>
<circle cx="337.8" cy="1210.2" r="12.5" fill="url(#ballR)"/>
<line x1="298.6" y1="1278.3" x2="377.3" y2="1278.3" stroke="#000" stroke-width="2.6" />
<line x1="298.6" y1="1348.3" x2="377.3" y2="1348.3" stroke="#ff0000" stroke-width="2.6" />
<text x="385" y="1152.4" font-family='"Liberation Sans", Arial, Helvetica, sans-serif' font-size="45" font-weight="bold" fill="#000" textLength="287" lengthAdjust="spacingAndGlyphs">Measured H<tspan font-size="27" dy="13">2</tspan></text>
<text x="385" y="1222" font-family='"Liberation Sans", Arial, Helvetica, sans-serif' font-size="45" font-weight="bold" fill="#000" textLength="290" lengthAdjust="spacingAndGlyphs">Measured O<tspan font-size="27" dy="13">2</tspan></text>
<text x="385" y="1290.5" font-family='"Liberation Sans", Arial, Helvetica, sans-serif' font-size="45" font-weight="bold" fill="#000" textLength="306" lengthAdjust="spacingAndGlyphs">Calculated H<tspan font-size="27" dy="13">2</tspan></text>
<text x="385" y="1360" font-family='"Liberation Sans", Arial, Helvetica, sans-serif' font-size="45" font-weight="bold" fill="#000" textLength="308" lengthAdjust="spacingAndGlyphs">Calculated O<tspan font-size="27" dy="13">2</tspan></text>
<text x="50.5" y="1080.3" font-family='"Liberation Serif", "Times New Roman", Times, serif' font-size="103.5" font-weight="bold" text-anchor="start" fill="#000" textLength="120.3" lengthAdjust="spacingAndGlyphs">(c)</text>
</g>
<g id="panel-d">
<text x="1247.4" y="1080.3" font-family='"Liberation Serif", "Times New Roman", Times, serif' font-size="103.5" font-weight="bold" text-anchor="start" fill="#000" textLength="130.4" lengthAdjust="spacingAndGlyphs">(d)</text>
<defs>
<filter id="blur1" x="-5%" y="-5%" width="110%" height="110%"><feGaussianBlur stdDeviation="1.6"/></filter>
<filter id="blur3" x="-20%" y="-20%" width="140%" height="140%"><feGaussianBlur stdDeviation="4"/></filter>
<filter id="blur8" x="-30%" y="-30%" width="160%" height="160%"><feGaussianBlur stdDeviation="10"/></filter>
<filter id="blur20" x="-50%" y="-50%" width="200%" height="200%"><feGaussianBlur stdDeviation="22"/></filter>
<linearGradient id="bgMain" x1="0" y1="0" x2="0" y2="1">
<stop offset="0" stop-color="#d2cecf"/><stop offset="0.12" stop-color="#cbc7cb"/><stop offset="0.3" stop-color="#bab6be"/>
<stop offset="0.5" stop-color="#b4b1b7"/><stop offset="0.7" stop-color="#c6c4c5"/><stop offset="0.81" stop-color="#e6e4e2"/><stop offset="0.9" stop-color="#edebe9"/><stop offset="1" stop-color="#efedeb"/>
</linearGradient>
<linearGradient id="metalV" x1="0" y1="0" x2="1" y2="0">
<stop offset="0" stop-color="#6e6a5e"/><stop offset="0.3" stop-color="#d9d5c8"/><stop offset="0.55" stop-color="#8a8678"/><stop offset="1" stop-color="#5a564c"/>
</linearGradient>
<linearGradient id="capL" x1="0" y1="0" x2="1" y2="0">
<stop offset="0" stop-color="#d9d7d6"/><stop offset="0.45" stop-color="#f3f2f0"/><stop offset="1" stop-color="#dddbd9"/>
</linearGradient>
</defs>
<clipPath id="clipP"><rect x="1483.3" y="1021.2" width="436.7" height="766.8"/></clipPath>
<defs>
<linearGradient id="bgMain2" x1="0" y1="0" x2="0" y2="1">
<stop offset="0" stop-color="#c5bfb7"/><stop offset="0.2" stop-color="#bcb6ae"/><stop offset="0.245" stop-color="#a7a199"/><stop offset="0.29" stop-color="#88837d"/>
<stop offset="0.42" stop-color="#8a8580"/><stop offset="0.56" stop-color="#9a9690"/><stop offset="0.75" stop-color="#a5a29d"/>
<stop offset="0.81" stop-color="#d9d6d1"/><stop offset="0.86" stop-color="#e6e3de"/><stop offset="1" stop-color="#ece9e5"/>
</linearGradient>
<linearGradient id="armL" x1="0" y1="0" x2="1" y2="0">
<stop offset="0" stop-color="#3f3a2e"/><stop offset="0.25" stop-color="#8d8872"/><stop offset="0.42" stop-color="#cfcab4"/><stop offset="0.6" stop-color="#6f6a55"/><stop offset="1" stop-color="#3a3529"/>
</linearGradient>
<linearGradient id="armR" x1="0" y1="0" x2="1" y2="0">
<stop offset="0" stop-color="#3c382c"/><stop offset="0.45" stop-color="#4a4536"/><stop offset="0.62" stop-color="#7d785f"/><stop offset="0.8" stop-color="#b5b096"/><stop offset="1" stop-color="#5a5543"/>
</linearGradient>
<linearGradient id="armLo" x1="0" y1="0" x2="1" y2="0">
<stop offset="0" stop-color="#4d483b"/><stop offset="0.3" stop-color="#6d6858"/><stop offset="0.55" stop-color="#a39e8b"/><stop offset="0.8" stop-color="#857f6d"/><stop offset="1" stop-color="#48443a"/>
</linearGradient>
<linearGradient id="capR2" x1="0" y1="0" x2="1" y2="0"><stop offset="0" stop-color="#b0a692"/><stop offset="0.4" stop-color="#cfc6ae"/><stop offset="1" stop-color="#dcd3bb"/></linearGradient>
<linearGradient id="capL2" x1="0" y1="0" x2="1" y2="0">
<stop offset="0" stop-color="#a59a85"/><stop offset="0.35" stop-color="#cdc4ac"/><stop offset="0.75" stop-color="#dad1ba"/><stop offset="1" stop-color="#c8bfa8"/>
</linearGradient>
</defs>
<g clip-path="url(#clipP)">
<rect x="1483.3" y="1021.2" width="436.7" height="766.8" fill="url(#bgMain2)"/>
<g filter="url(#blur20)">
<ellipse cx="1700" cy="1075" rx="110" ry="55" fill="#d0cbc3"/>
<ellipse cx="1690" cy="1300" rx="70" ry="60" fill="#78726b"/>
<rect x="1800" y="1000" width="140" height="170" fill="#dad6cc"/>
<rect x="1800" y="1275" width="140" height="330" fill="#cdc9c3"/>
<polygon points="1470,1655 1930,1590 1930,1800 1470,1800" fill="#e9e6e2"/>
<ellipse cx="1580" cy="1690" rx="80" ry="28" fill="#aeaaa3"/>
<ellipse cx="1700" cy="1690" rx="60" ry="22" fill="#b4b0a8"/>
<rect x="1470" y="1440" width="60" height="170" fill="#a9a6a1"/>
</g>
<g filter="url(#blur1)">
<polygon points="1878.7,1019.4 1895.1,1019.4 1891.5,1080.3 1879.8,1080.3" fill="#e6e2d8" opacity="0.8"/>
<polygon points="1906.8,1019.4 1922.0,1019.4 1922.0,1087.3 1903.3,1087.3" fill="#ece9e0" opacity="0.85"/>
<polygon points="1608.2,1019.4 1629.7,1019.4 1627.4,1045.1 1621.1,1065.0 1610.5,1065.0 1607.7,1045.1" fill="#7a2a2c" />
<polygon points="1610.0,1065.0 1620.4,1065.0 1617.5,1103.7 1611.2,1103.7" fill="#463c38" />
<polygon points="1574.7,1040.4 1582.9,1040.4 1584.1,1109.5 1575.9,1109.5" fill="#7f6a3e" />
<polygon points="1574.7,1040.4 1578.2,1040.4 1579.4,1109.5 1575.9,1109.5" fill="#a89158" />
<polygon points="1479.4,1080.3 1516.8,1068.1 1549.6,1070.4 1575.4,1076.7 1593.0,1080.3 1575.4,1095.5 1547.3,1114.2 1516.8,1128.3 1479.4,1131.8" fill="#cdc6ae" />
<polygon points="1479.4,1108.4 1516.8,1103.7 1547.3,1087.3 1575.4,1080.3 1573.0,1095.5 1547.3,1114.2 1516.8,1128.3 1479.4,1131.8" fill="#a59c80" />
<polygon points="1479.4,1080.3 1516.8,1068.5 1547.3,1071.4 1547.3,1078.4 1516.8,1078.4 1479.4,1090.8" fill="#e4e0cf" />
<polygon points="1484.1,1094.3 1514.5,1087.3 1516.8,1099.0 1486.4,1106.0" fill="#dad5c0" />
<path d="M1528.5,1073.7 C1575.4,1066.2 1633.9,1062.7 1680.8,1065.7 S1725.3,1072.8 1735.8,1077.9" fill="none" stroke="#ebe6d6" stroke-width="7"/>
<polygon points="1729.5,1080.3 1735.8,1069.7 1772.1,1065.3 1797.9,1066.2 1821.3,1077.4 1854.1,1092.0 1874.0,1101.8 1874.7,1113.0 1854.1,1120.5 1797.9,1118.2 1769.8,1108.8 1746.3,1092.4" fill="#27433b" />
<polygon points="1762.7,1074.4 1795.5,1076.7 1795.5,1079.3 1762.7,1077.4" fill="#4f8575" />
<polygon points="1816.6,1090.8 1840.0,1097.8 1839.6,1100.4 1816.1,1093.6" fill="#477a6b" />
<polygon points="1865.8,1099.0 1875.2,1101.8 1874.7,1113.0 1865.8,1113.0" fill="#4f483e" />
<polygon points="1853.6,1076.7 1860.6,1076.7 1859.2,1135.3 1851.7,1135.3" fill="#7d683c" />
<polygon points="1853.6,1076.7 1856.4,1076.7 1855.0,1135.3 1851.7,1135.3" fill="#a58e55" />
<polygon points="1893.4,1076.7 1901.4,1076.7 1894.4,1135.3 1886.4,1135.3" fill="#7f6a3e" />
<polygon points="1893.4,1076.7 1896.7,1076.7 1889.7,1135.3 1886.4,1135.3" fill="#a68f57" />
<polygon points="1865.8,1113.0 1884.5,1113.0 1884.5,1136.5 1865.8,1136.5" fill="#e9e5da" opacity="0.85"/>
<polygon points="1591.8,1281.7 1642.1,1281.7 1639.8,1394.1 1608.2,1394.1" fill="#aaa6a0" opacity="0.45"/>
<rect x="1545.4" y="1108.4" width="103.7" height="55.0" rx="9" fill="url(#capL2)"/>
<ellipse cx="1597.6" cy="1113.0" rx="50.4" ry="5.6" fill="#e6dec8"/>
<rect x="1525.3" y="1159.9" width="132.6" height="99.5" rx="8" fill="#aaa38e"/>
<rect x="1540.3" y="1173.9" width="100.7" height="5.6" fill="#c4beaa" opacity="0.8"/>
<rect x="1540.3" y="1190.3" width="100.7" height="5.6" fill="#c4beaa" opacity="0.8"/>
<rect x="1540.3" y="1206.7" width="100.7" height="5.6" fill="#c4beaa" opacity="0.8"/>
<rect x="1540.3" y="1221.9" width="100.7" height="5.6" fill="#c4beaa" opacity="0.8"/>
<rect x="1540.3" y="1236.0" width="100.7" height="5.6" fill="#c4beaa" opacity="0.8"/>
<rect x="1540.3" y="1248.9" width="100.7" height="5.6" fill="#c4beaa" opacity="0.8"/>
<polygon points="1525.3,1164.6 1547.3,1164.6 1547.3,1258.2 1528.5,1258.2" fill="#989180" opacity="0.8"/>
<polygon points="1633.9,1164.6 1657.8,1164.6 1655.0,1258.2 1633.9,1258.2" fill="#9c9583" opacity="0.6"/>
<polygon points="1531.4,1258.2 1652.7,1258.2 1633.9,1267.6 1549.6,1267.6" fill="#9a937f" />
<polygon points="1548.5,1263.4 1635.1,1262.0 1639.1,1276.5 1550.8,1277.9" fill="#564c46" />
<polygon points="1559.0,1253.6 1624.6,1252.6 1626.9,1258.7 1561.3,1259.6" fill="#7c766a" />
<polygon points="1561.3,1323.8 1590.6,1323.8 1590.1,1390.6 1562.0,1390.6" fill="#bdb8ad" />
<polygon points="1562.5,1307.0 1589.4,1307.0 1589.4,1312.1 1562.5,1312.1" fill="#3f3b38" />
<polygon points="1562.5,1318.7 1588.3,1318.7 1588.3,1328.0 1562.5,1328.0" fill="#35312f" />
<polygon points="1569.5,1286.3 1576.6,1286.3 1576.6,1299.2 1569.5,1299.2" fill="#b3ad9c" />
<ellipse cx="1580.1" cy="1374.1" rx="9" ry="12" fill="#dedad0" filter="url(#blur3)"/>
<polygon points="1593.0,1312.1 1607.7,1312.1 1606.8,1410.0 1591.8,1410.0" fill="#8a3436" />
<polygon points="1591.8,1313.2 1606.3,1313.2 1604.9,1356.6 1592.7,1356.6" fill="#8a3436" />
<polygon points="1604.7,1286.3 1608.6,1286.3 1608.2,1312.1 1604.7,1312.1" fill="#a56a66" />
<polygon points="1592.7,1357.3 1607.2,1359.6 1607.2,1399.9 1602.3,1405.7 1606.3,1413.9 1604.9,1531.0 1580.1,1519.3 1584.3,1413.9 1588.5,1399.9" fill="#3f3d3b" />
<polygon points="1570.7,1413.9 1575.4,1413.9 1575.4,1540.4 1571.2,1540.4" fill="#7b7872" opacity="0.8"/>
<polygon points="1631.6,1353.0 1636.7,1353.0 1634.4,1402.2 1629.7,1402.2" fill="#5b5650" />
<polygon points="1563.2,1538.1 1566.5,1538.1 1566.5,1573.2 1563.2,1573.2" fill="#5f5c55" />
<polygon points="1560.9,1573.2 1567.9,1573.2 1567.9,1594.3 1560.9,1594.3" fill="#8d8a80" />
<ellipse cx="1584.8" cy="1403.4" rx="54.3" ry="6.1" fill="none" stroke="#c9c6c0" stroke-width="2.2" opacity="0.75"/>
<path d="M1541.4,1286.3 L1540.3,1399.9" stroke="#b7b3ad" stroke-width="2.5" fill="none" opacity="0.7"/>
<path d="M1642.1,1286.3 L1639.8,1399.9" stroke="#b5b1ab" stroke-width="2.5" fill="none" opacity="0.7"/>
<path d="M1531.4,1404.6 L1525.7,1657.6" stroke="#b9b6b1" stroke-width="2.5" fill="none" opacity="0.6"/>
<path d="M1639.1,1404.6 L1637.4,1540.5" stroke="#b3b0aa" stroke-width="2" fill="none" opacity="0.5"/>
<path d="M1568.4,1540.5 C1566.0,1587.4 1556.7,1622.5 1540.3,1652.9 L1526.2,1655.3 C1540.3,1610.8 1547.3,1587.4 1550.8,1540.5 Z" fill="#c9c6c0" opacity="0.55"/>
<ellipse cx="1574.2" cy="1679.9" rx="50.4" ry="21.5" fill="#a5a29c"/>
<ellipse cx="1574.2" cy="1669.3" rx="48.0" ry="11.7" fill="none" stroke="#d1cec8" stroke-width="2.5" opacity="0.7"/>
<ellipse cx="1574.2" cy="1684.5" rx="46.8" ry="14.1" fill="none" stroke="#c4c1bb" stroke-width="2" opacity="0.7"/>
<polygon points="1774.4,1296.8 1797.9,1296.8 1788.5,1601.3 1774.4,1601.3" fill="#a9a59e" opacity="0.5"/>
<polygon points="1801.4,1284.0 1913.8,1282.8 1912.6,1410.0 1797.9,1410.0" fill="#cdcac3" />
<polygon points="1796.0,1390.5 1883.3,1395.2 1878.7,1460.8 1868.1,1554.4 1854.1,1624.7 1844.7,1655.3 1793.2,1657.6 1781.5,1563.9" fill="#cbc8c1" />
<polygon points="1835.3,1399.9 1854.1,1399.9 1844.7,1601.3 1834.2,1648.1" fill="#e2e0db" opacity="0.8"/>
<rect x="1817.1" y="1136.5" width="111.9" height="43.3" rx="8" fill="url(#capR2)"/>
<rect x="1807.2" y="1177.4" width="121.8" height="86.7" rx="7" fill="#b8b29c"/>
<rect x="1816.6" y="1190.3" width="103.0" height="5.6" fill="#d4cfba" opacity="0.85"/>
<rect x="1816.6" y="1206.7" width="103.0" height="5.6" fill="#d4cfba" opacity="0.85"/>
<rect x="1816.6" y="1221.9" width="103.0" height="5.6" fill="#d4cfba" opacity="0.85"/>
<rect x="1816.6" y="1236.0" width="103.0" height="5.6" fill="#d4cfba" opacity="0.85"/>
<rect x="1816.6" y="1248.9" width="103.0" height="5.6" fill="#d4cfba" opacity="0.85"/>
<polygon points="1807.2,1181.0 1826.0,1181.0 1826.0,1262.9 1807.2,1262.9" fill="#a59e8b" opacity="0.8"/>
<polygon points="1803.7,1262.9 1919.6,1260.6 1915.0,1267.6 1807.2,1270.0" fill="#b3ad9b" />
<polygon points="1807.7,1268.5 1916.1,1265.7 1916.1,1279.8 1810.0,1282.6" fill="#524842" />
<polygon points="1834.4,1289.8 1847.5,1289.8 1845.2,1320.3 1842.8,1353.5 1832.1,1353.5 1830.7,1320.3" fill="#a4504a" />
<polygon points="1835.3,1355.4 1845.2,1355.4 1840.5,1399.9 1838.1,1402.2 1827.6,1507.6 1808.4,1494.7 1820.4,1402.2 1828.3,1399.9" fill="#6a6c6c" />
<path d="M1885.7,1292.2 C1893.9,1320.3 1891.5,1343.7 1885.7,1367.1" stroke="#7d786e" stroke-width="3" fill="none"/>
<polygon points="1882.2,1367.1 1890.4,1368.3 1885.7,1392.9 1878.7,1391.7" fill="#e0dccb" />
<ellipse cx="1821.3" cy="1648.2" rx="35.1" ry="12.9" fill="#cfccc6"/>
<ellipse cx="1821.3" cy="1643.6" rx="32.8" ry="9.4" fill="none" stroke="#e8e6e1" stroke-width="2" opacity="0.8"/>
<path d="M1835.3,1413.9 L1844.7,1634.2" stroke="#ebe9e4" stroke-width="4" fill="none" opacity="0.8"/>
<ellipse cx="1655.9" cy="1595.9" rx="26.0" ry="56.1" fill="#9c9992"/>
<ellipse cx="1660.4" cy="1582.4" rx="18.0" ry="38.2" fill="none" stroke="#c5c2bb" stroke-width="2.5" opacity="0.8"/>
<polygon points="1638.0,1557.7 1662.7,1551.0 1660.4,1560.0 1640.2,1566.7" fill="#dddad3" />
<polygon points="1631.2,1618.4 1671.6,1622.8 1680.6,1649.8 1631.2,1645.3" fill="#aaa7a0" />
<polygon points="1657.3,1362.3 1663.6,1352.5 1675.2,1351.1 1675.2,1551.0 1664.9,1551.0 1659.1,1470.1" fill="#7b7873" />
<polygon points="1691.8,1355.6 1748.9,1355.6 1748.9,1402.8 1691.8,1402.8" fill="#938e86" />
<polygon points="1691.8,1425.2 1748.9,1416.2 1748.9,1454.4 1691.8,1458.9" fill="#2f2e2b" />
<polygon points="1727.8,1402.8 1748.9,1402.8 1748.9,1425.2 1721.0,1427.5" fill="#45433c" />
<path d="M1734.5,1402.8 L1727.8,1416.2 L1723.3,1438.7" stroke="#2b2a27" stroke-width="3.5" fill="none"/>
<path d="M1694.1,1438.7 L1695.0,1423.0 Q1703.1,1412.6 1713.0,1420.7 L1714.3,1440.9" stroke="#8f8b7c" stroke-width="2.5" fill="none"/>
<polygon points="1688.7,1455.8 1770.4,1449.9 1772.7,1467.9 1752.5,1480.0 1690.5,1483.6" fill="#8d8569" />
<polygon points="1694.1,1458.9 1768.2,1453.1 1769.1,1463.4 1695.0,1470.1" fill="#a59d7f" />
<circle cx="1727.8" cy="1468.8" r="4" fill="#615a45"/>
<polygon points="1693.2,1483.6 1752.5,1480.0 1756.1,1515.0 1694.1,1519.5" fill="#76736c" />
<polygon points="1716.6,1497.1 1734.5,1483.6 1754.7,1481.4 1757.9,1528.5 1739.0,1533.0 1723.3,1515.0" fill="#4a463c" />
<ellipse cx="1743.5" cy="1580.2" rx="22.5" ry="62.9" fill="#57554f"/>
<ellipse cx="1732.7" cy="1580.2" rx="23.4" ry="67.4" fill="#8c8a81"/>
<ellipse cx="1720.1" cy="1580.2" rx="23.4" ry="69.6" fill="#c2baa4"/>
<ellipse cx="1715.7" cy="1580.2" rx="16.2" ry="60.6" fill="#aea68f"/>
<polygon points="1707.6,1600.4 1716.6,1600.4 1716.6,1618.4 1707.6,1618.4" fill="#a78b4b" />
<polygon points="1691.8,1376.7 1748.9,1376.7 1748.9,1393.8 1691.8,1393.8" fill="#6f6a54" />
<polygon points="1691.8,1378.5 1748.9,1378.5 1748.9,1383.0 1691.8,1383.0" fill="#c6c1a9" />
<ellipse cx="1697.7" cy="1383.9" rx="7.2" ry="17.1" fill="#6d6853"/>
<ellipse cx="1709.8" cy="1380.3" rx="6.3" ry="23.4" fill="#77725c"/>
<rect x="1713.0" y="1355.6" width="25.2" height="48.5" rx="4" fill="#8f8a70"/>
<rect x="1714.8" y="1357.0" width="19.8" height="15.3" rx="3" fill="#d2cdb6"/>
<ellipse cx="1743.5" cy="1382.6" rx="7.2" ry="10.8" fill="#bdb8a0"/>
<path d="M1671.6,1362.3 Q1671.6,1351.1 1682.9,1351.1 Q1694.1,1351.1 1694.1,1362.3 L1694.1,1470.1 L1706.7,1542.0 L1676.1,1542.0 L1671.6,1470.1 Z" fill="url(#armL)"/>
<path d="M1745.7,1360.1 Q1745.7,1348.9 1760.6,1348.9 Q1774.9,1348.9 1774.9,1362.3 L1775.8,1470.1 L1774.0,1542.0 L1752.5,1542.0 L1748.9,1470.1 Z" fill="url(#armR)"/>
<rect x="1674.3" y="1524.0" width="31.4" height="167.1" rx="10" fill="url(#armLo)"/>
<rect x="1752.5" y="1524.0" width="20.7" height="158.1" rx="8" fill="url(#armLo)"/>
<polygon points="1676.1,1474.6 1694.1,1470.1 1707.6,1528.5 1706.7,1560.0 1690.5,1564.5 1680.6,1528.5" fill="#d6d2c0" opacity="0.75"/>
<polygon points="1750.7,1474.6 1770.4,1470.1 1774.9,1528.5 1774.0,1560.0 1762.4,1564.5 1755.2,1528.5" fill="#cdc9b7" opacity="0.7"/>
<polygon points="1680.6,1474.6 1686.0,1472.4 1697.7,1560.0 1692.3,1562.2" fill="#575344" opacity="0.85"/>
<polygon points="1755.2,1474.6 1759.7,1472.8 1766.9,1560.0 1762.4,1561.8" fill="#575344" opacity="0.85"/>
</g>
<rect x="1483.3" y="1021.2" width="4" height="766.8" fill="#e9e6e2" opacity="0.8"/>
<rect x="1483.3" y="1021.2" width="436.7" height="3" fill="#d6d1c8" opacity="0.8"/>
</g>
<clipPath id="clipH"><rect x="2095.5" y="1021.2" width="290.5" height="313.0"/></clipPath>
<defs>
<linearGradient id="bgH" x1="0" y1="0" x2="1" y2="0">
<stop offset="0" stop-color="#89857a"/><stop offset="0.1" stop-color="#8b877b"/><stop offset="0.7" stop-color="#908d81"/><stop offset="1" stop-color="#949185"/>
</linearGradient>
<linearGradient id="stripH" x1="0" y1="0" x2="1" y2="0">
<stop offset="0" stop-color="#4e4e47"/><stop offset="0.5" stop-color="#41413b"/><stop offset="1" stop-color="#45453f"/>
</linearGradient>
<linearGradient id="bgO" x1="0" y1="0" x2="1" y2="0">
<stop offset="0" stop-color="#a5a296"/><stop offset="0.2" stop-color="#aba89c"/><stop offset="0.8" stop-color="#aaa79b"/><stop offset="1" stop-color="#a5a296"/>
</linearGradient>
</defs>
<g clip-path="url(#clipH)">
<rect x="2095.5" y="1021.2" width="290.5" height="313.0" fill="url(#bgH)"/>
<g filter="url(#blur1)">
<polygon points="2091.8,1017.8 2144.7,1017.8 2138.8,1080.6 2091.8,1092.4" fill="#aaa698"/>
<polygon points="2252.5,1017.8 2389.8,1017.8 2389.8,1066.9 2252.5,1074.7" fill="#98948a"/>
<polygon points="2091.8,1100.2 2138.8,1096.3 2158.4,1337.5 2091.8,1337.5" fill="#787466"/>
<polygon points="2091.8,1100.2 2119.2,1098.2 2125.1,1337.5 2091.8,1337.5" fill="#87837a"/>
<polygon points="2285.9,1088.4 2389.8,1078.6 2389.8,1337.5 2301.6,1337.5" fill="#928f83"/>
<polygon points="2142.7,1017.8 2252.5,1017.8 2252.5,1075.7 2135.9,1083.5 2125.1,1068.8 2138.8,1059.0" fill="#524e46"/>
<polygon points="2091.8,1087.5 2256.5,1078.6 2389.8,1062.9 2389.8,1074.7 2276.1,1087.5 2091.8,1098.2" fill="#a9a594"/>
<polygon points="2248.6,1081.6 2295.7,1074.7 2389.8,1065.9 2389.8,1070.8 2276.1,1084.5" fill="#c6c2ad"/>
<polygon points="2135.9,1093.3 2283.9,1088.4 2288.8,1137.5 2296.7,1215.9 2302.5,1337.5 2157.5,1337.5 2154.5,1255.1 2147.6,1176.7 2138.8,1127.6" fill="url(#stripH)"/>
</g>
</g>
<rect x="2287.8" y="1261" width="97.6" height="71" fill="#000"/>
<text x="2315" y="1310" font-family='"Liberation Serif", "Times New Roman", Times, serif' font-size="37" font-weight="bold" fill="#fff">H<tspan font-size="23" dy="8">2</tspan></text>
<clipPath id="clipO"><rect x="2094.0" y="1473.5" width="290.2" height="316.0"/></clipPath>
<g clip-path="url(#clipO)">
<rect x="2094.0" y="1473.5" width="290.2" height="316.0" fill="url(#bgO)"/>
<g filter="url(#blur1)">
<polygon points="2090.0,1470.0 2231.2,1470.0 2219.3,1535.6 2191.4,1553.5 2090.0,1553.5" fill="#aaa698"/>
<polygon points="2090.0,1550.5 2191.4,1553.5 2259.1,1577.4 2320.8,1584.4 2386.5,1579.4 2386.5,1591.3 2318.8,1589.4 2165.6,1597.3 2090.0,1587.4" fill="#bab8ad"/>
<polygon points="2090.0,1559.5 2179.5,1563.5 2243.2,1579.4 2090.0,1574.4" fill="#aeab9f"/>
<polygon points="2115.8,1552.5 2145.7,1551.9 2145.7,1555.5 2115.8,1556.5" fill="#e4e2d8"/>
<polygon points="2103.9,1578.4 2145.7,1579.4 2145.7,1583.0 2103.9,1582.4" fill="#dddbd0"/>
<polygon points="2336.7,1470.0 2386.5,1470.0 2386.5,1579.4 2324.8,1579.4" fill="#aeab9f"/>
<polygon points="2320.8,1591.3 2386.5,1591.3 2386.5,1792.3 2314.8,1792.3" fill="#aaa79c"/>
<polygon points="2321.8,1617.2 2386.5,1619.2 2386.5,1625.2 2338.7,1623.2" fill="#c4c1b6"/>
<polygon points="2328.8,1595.3 2340.7,1595.3 2342.7,1611.2 2330.7,1611.2" fill="#6b6962"/>
<polygon points="2229.3,1470.0 2335.7,1470.0 2331.7,1539.6 2321.8,1584.4 2259.1,1576.4 2191.4,1555.1 2211.3,1543.6 2223.3,1519.7" fill="#4e4c46"/>
<polygon points="2233.2,1471.9 2251.1,1471.9 2263.1,1505.8 2249.2,1525.7 2223.3,1543.6 2217.3,1539.6 2229.3,1511.7" fill="#7a6c5b"/>
<polygon points="2239.2,1509.8 2259.1,1507.8 2253.1,1521.7 2237.2,1525.7" fill="#94705f"/>
<polygon points="2165.6,1596.3 2318.8,1588.4 2316.4,1678.9 2313.2,1792.3 2147.7,1792.3 2156.6,1678.9" fill="#4b4a44"/>
<polygon points="2290.9,1627.2 2310.8,1627.2 2310.8,1633.1 2290.9,1633.1" fill="#8d8d88"/>
<polygon points="2294.9,1648.1 2310.8,1648.1 2310.8,1654.0 2294.9,1654.0" fill="#84847f"/>
</g>
</g>
<rect x="2288" y="1715.7" width="96.2" height="72" fill="#ff0000"/>
<text x="2314.5" y="1764.5" font-family='"Liberation Serif", "Times New Roman", Times, serif' font-size="37" font-weight="bold" fill="#fff">O<tspan font-size="23" dy="8">2</tspan></text>
<g fill="none" stroke-width="5.2">
<path d="M1570,1438 L1619.3,1438 L1619.3,1538.6 L1570,1538.6 Z" stroke="#ff0000" stroke-dasharray="30 10"/>
<path d="M1619.3,1438 L2096,1487" stroke="#ff0000" stroke-dasharray="42 18" stroke-dashoffset="-14"/>
<path d="M1619.3,1538.6 L2095,1795" stroke="#ff0000" stroke-dasharray="43 19"/>
<path d="M1850,1418 L1801,1418 L1801,1518 L1850,1518 Z" stroke="#000" stroke-dasharray="26 12" stroke-dashoffset="14"/>
<path d="M1850.5,1418 L2094.5,1033.5" stroke="#000" stroke-dasharray="41 19"/>
<path d="M1850.5,1518 L2092,1332.5" stroke="#000" stroke-dasharray="41 19"/>
</g>
<text x="2117" y="1421.5" font-family='"Liberation Serif", "Times New Roman", Times, serif' font-size="48.5" font-weight="bold" text-anchor="start" fill="#1274c4" textLength="232" lengthAdjust="spacingAndGlyphs">Ratio = 2:1</text>
</g>
</svg>
</body>
</html>
